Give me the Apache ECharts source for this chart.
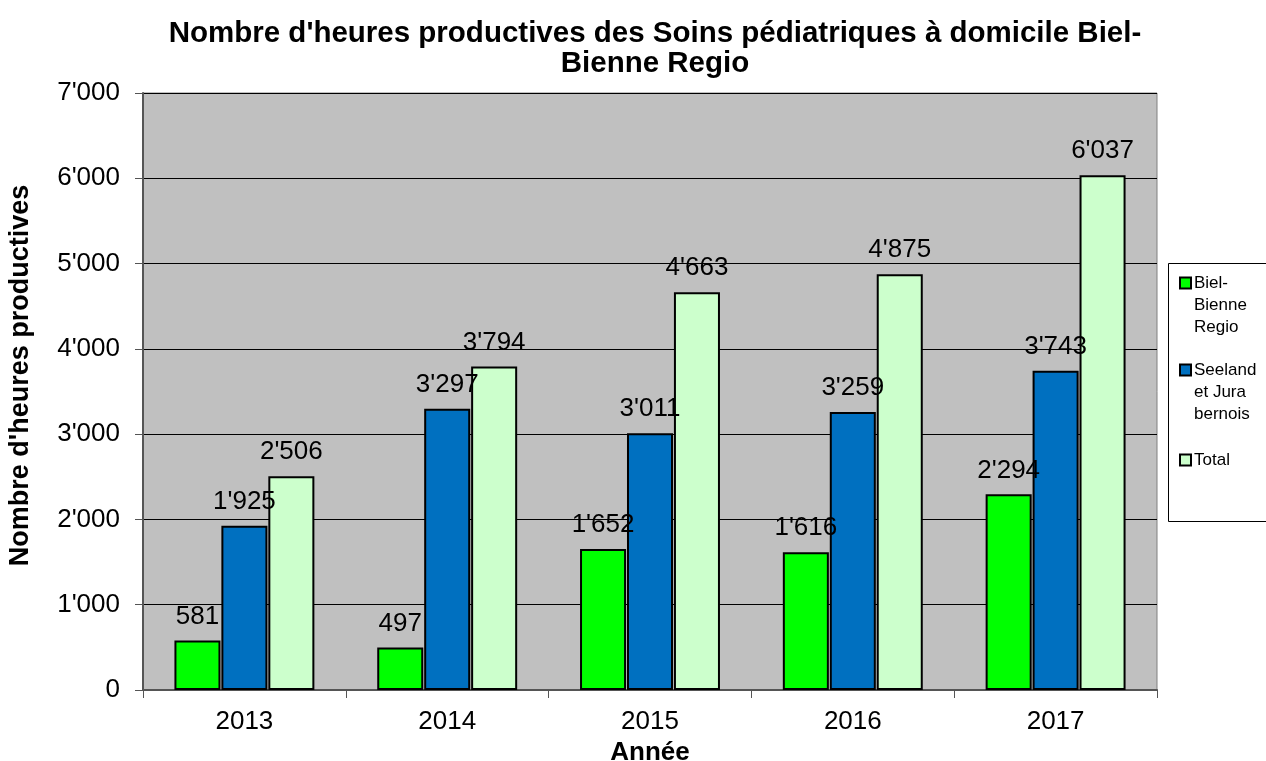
<!DOCTYPE html>
<html>
<head>
<meta charset="utf-8">
<script src="https://cdn.jsdelivr.net/npm/echarts@6/dist/echarts.min.js"></script>
<style>
  html, body { margin: 0; padding: 0; background: #fff; }
  #chart { width: 1266px; height: 761px; }
</style>
</head>
<body>
<div id="chart"></div>
<script>
const years = ['2013', '2014', '2015', '2016', '2017'];
const bielBienne = [581, 497, 1652, 1616, 2294];
const seeland = [1925, 3297, 3011, 3259, 3743];
const total = [2506, 3794, 4663, 4875, 6037];
const seriesNames = ['Biel-\nBienne\nRegio', 'Seeland\net Jura\nbernois', 'Total'];
const colors = ['#00ff00', '#0070c0', '#ccffcc'];
const legendY = [283, 370, 460]; // centre du carré de légende

// séparateur de milliers façon suisse : 1'925
function fmt(v) {
    return String(v).replace(/\B(?=(\d{3})+(?!\d))/g, "'");
}

const chart = echarts.init(document.getElementById('chart'));

const LH = 22; // hauteur de ligne de la légende

function makeSeries(name, data, color) {
    return {
        name: name,
        type: 'bar',
        data: data,
        barGap: '2%',
        barCategoryGap: '31%',
        itemStyle: { color: color, borderColor: '#000', borderWidth: 2 },
        label: {
            show: true,
            position: 'top',
            distance: 11,
            color: '#000',
            fontSize: 26,
            formatter: p => fmt(p.value)
        }
    };
}

// une légende par série : le carré est aligné sur la première ligne du texte
const legends = seriesNames.map((n, i) => {
    const nLines = n.split('\n').length;
    const extra = nLines - 1;
    const total = nLines + extra;
    return {
        orient: 'vertical',
        left: 1179,
        top: legendY[i] - total * LH / 2,
        padding: 0,
        itemWidth: 11,
        itemHeight: 11,
        icon: 'rect',
        textStyle: { fontSize: 17, color: '#000', lineHeight: LH, padding: [0, 0, 0, -2] },
        formatter: name => ' \n'.repeat(extra) + name,
        data: [{ name: n, itemStyle: { color: colors[i], borderColor: '#000', borderWidth: 2 } }]
    };
});

const option = {
    backgroundColor: '#fff',
    animation: false,
    textStyle: { fontFamily: 'Liberation Sans, Arial, sans-serif' },
    title: {
        text: "Nombre d'heures productives des Soins pédiatriques à domicile Biel-\nBienne Regio",
        left: 650,
        textAlign: 'center',
        top: 14,
        textStyle: { fontSize: 29.5, fontWeight: 'bold', color: '#000', lineHeight: 30 }
    },
    grid: {
        left: 143, right: 109, top: 93, bottom: 71,
        outerBoundsMode: 'none',
        show: true, backgroundColor: '#c0c0c0', borderColor: '#808080', borderWidth: 1
    },
    legend: legends,
    graphic: [{
        type: 'rect',
        shape: { x: 1168.5, y: 263.5, width: 110, height: 258 },
        style: { fill: '#fff', stroke: '#000', lineWidth: 1 },
        z: -1
    }],
    xAxis: {
        type: 'category',
        data: years,
        name: 'Année',
        nameLocation: 'middle',
        nameGap: 49,
        nameTextStyle: { fontSize: 26, fontWeight: 'bold', color: '#000' },
        axisLine: { lineStyle: { color: '#555', width: 2 } },
        axisTick: { show: true, length: 8, lineStyle: { color: '#555' } },
        axisLabel: { fontSize: 26, color: '#000', margin: 19 }
    },
    yAxis: {
        type: 'value',
        min: 0,
        max: 7000,
        interval: 1000,
        name: "Nombre d'heures productives",
        nameLocation: 'middle',
        nameGap: 109,
        nameTextStyle: { fontSize: 27, fontWeight: 'bold', color: '#000', padding: [0, 0, 0, 32] },
        axisLine: { show: true, lineStyle: { color: '#555', width: 2 } },
        axisTick: { show: true, length: 8, lineStyle: { color: '#555' } },
        splitLine: { lineStyle: { color: '#000', width: 1 } },
        axisLabel: { fontSize: 26, color: '#000', margin: 23, formatter: v => fmt(v) }
    },
    series: [
        makeSeries(seriesNames[0], bielBienne, colors[0]),
        makeSeries(seriesNames[1], seeland, colors[1]),
        makeSeries(seriesNames[2], total, colors[2])
    ]
};

chart.setOption(option);
</script>
</body>
</html>
